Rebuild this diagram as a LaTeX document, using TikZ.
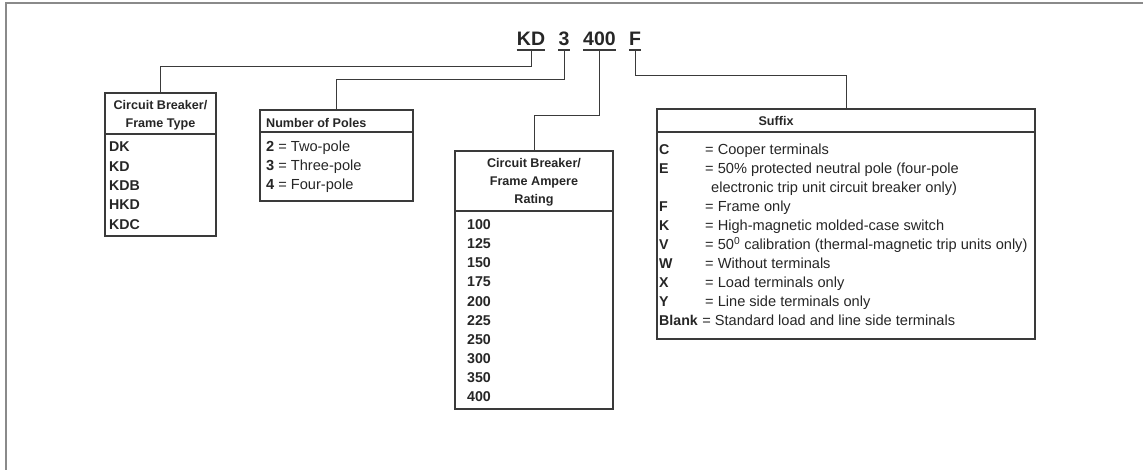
\documentclass[tikz,border=0pt]{standalone}
\usepackage{fontspec}
\setmainfont{Liberation Sans}
\definecolor{linecol}{HTML}{3A3A3A}
\definecolor{framecol}{HTML}{8A8A8A}
\begin{document}
\begin{tikzpicture}[x=1pt,y=-1pt,
  box/.style={draw=linecol, line width=1.1pt, inner sep=0pt, outer sep=0pt, anchor=north west},
  sep/.style={draw=linecol, line width=1.1pt},
  conn/.style={draw=linecol, line width=1pt},
  uline/.style={draw=linecol, line width=1.8pt},
  ttl/.style={font=\bfseries\fontsize{19.5}{22}\selectfont, inner sep=0pt, anchor=base, text=black!85},
  hdr/.style={font=\bfseries\fontsize{12.6}{16}\selectfont, inner sep=0pt, anchor=base, text=black!85},
  txt/.style={font=\fontsize{14.6}{16}\selectfont, inner sep=0pt, anchor=base west, text=black!85},
  btxt/.style={txt, font=\bfseries\fontsize{14.2}{16}\selectfont}]
\useasboundingbox (0,0) rectangle (1143,470);
% outer frame
\draw[draw=framecol, line width=1.5pt] (6,470) -- (6,3) -- (1143,3);

% title
\node[ttl] (tkd) at (531,46) {KD};
\node[ttl] (t3) at (564,46) {3};
\node[ttl] (t400) at (599.5,46) {400};
\node[ttl] (tf) at (635,46) {F};
\foreach \n in {tkd,t3,t400,tf}{
  \draw[uline] (\n.south west |- 0,50) -- (\n.south east |- 0,50);
}
\coordinate (ukd) at (tkd.south |- 0,50);
\coordinate (u3) at (t3.south |- 0,50);
\coordinate (u400) at (t400.south |- 0,50);
\coordinate (uf) at (tf.south |- 0,50);

% boxes
\node[box, minimum width=111pt, minimum height=143pt] (ft) at (105,93) {};
\node[box, minimum width=153pt, minimum height=91pt] (poles) at (260,110) {};
\node[box, minimum width=158pt, minimum height=258pt] (rating) at (455,151) {};
\node[box, minimum width=378pt, minimum height=230pt] (suffix) at (657,109) {};

\draw[sep] (ft.west |- 0,134) -- (ft.east |- 0,134);
\draw[sep] (poles.west |- 0,132) -- (poles.east |- 0,132);
\draw[sep] (rating.west |- 0,211) -- (rating.east |- 0,211);
\draw[sep] (suffix.west |- 0,132) -- (suffix.east |- 0,132);

% connectors
\draw[conn] (ukd) -- ++(0,17) -| (ft.north);
\draw[conn] (u3) -- ++(0,30) -| (poles.north);
\draw[conn] (u400) -- ++(0,66) -| (rating.north);
\draw[conn] (uf) -- ++(0,26) -| (suffix.north);

% frame type
\node[hdr] (fth1) at (160.5,110) {Circuit Breaker/};
\node[hdr] (fth2) at (160.5,128) {Frame Type};
\foreach \t [count=\i from 0] in {DK,KD,KDB,HKD,KDC}{
  \node[btxt] (ft\i) at (109,152+19.3*\i) {\t};
}

% poles
\node[hdr, anchor=base west] (ph) at (266,128) {Number of Poles};
\node[txt] (p0) at (266,152) {\textbf{2} = Two-pole};
\node[txt] (p1) at (266,171) {\textbf{3} = Three-pole};
\node[txt] (p2) at (266,190) {\textbf{4} = Four-pole};

% rating
\node[hdr] (rh1) at (534,168) {Circuit Breaker/};
\node[hdr] (rh2) at (534,186) {Frame Ampere};
\node[hdr] (rh3) at (534,204) {Rating};
\foreach \t [count=\i from 0] in {100,125,150,175,200,225,250,300,350,400}{
  \node[btxt] (r\i) at (467,230+19*\i) {\t};
}

% suffix
\node[hdr] (sh) at (776,126) {Suffix};
\foreach \k/\t [count=\i from 0] in {
  C/{= Cooper terminals},
  E/{= 50\% protected neutral pole (four-pole},
  /{},
  F/{= Frame only},
  K/{= High-magnetic molded-case switch},
  V/{= 50\textsuperscript{0} calibration (thermal-magnetic trip units only)},
  W/{= Without terminals},
  X/{= Load terminals only},
  Y/{= Line side terminals only}}{
  \node[btxt] (sk\i) at (659,155+19*\i) {\k};
  \node[txt] (st\i) at (705,155+19*\i) {\t};
}
\node[txt] (scont) at (711,193) {electronic trip unit circuit breaker only)};
\node[btxt] (skb) at (659,326) {Blank};
\node[txt, anchor=base west] (stb) at (skb.base east) {\ = Standard load and line side terminals};
\end{tikzpicture}
\end{document}
